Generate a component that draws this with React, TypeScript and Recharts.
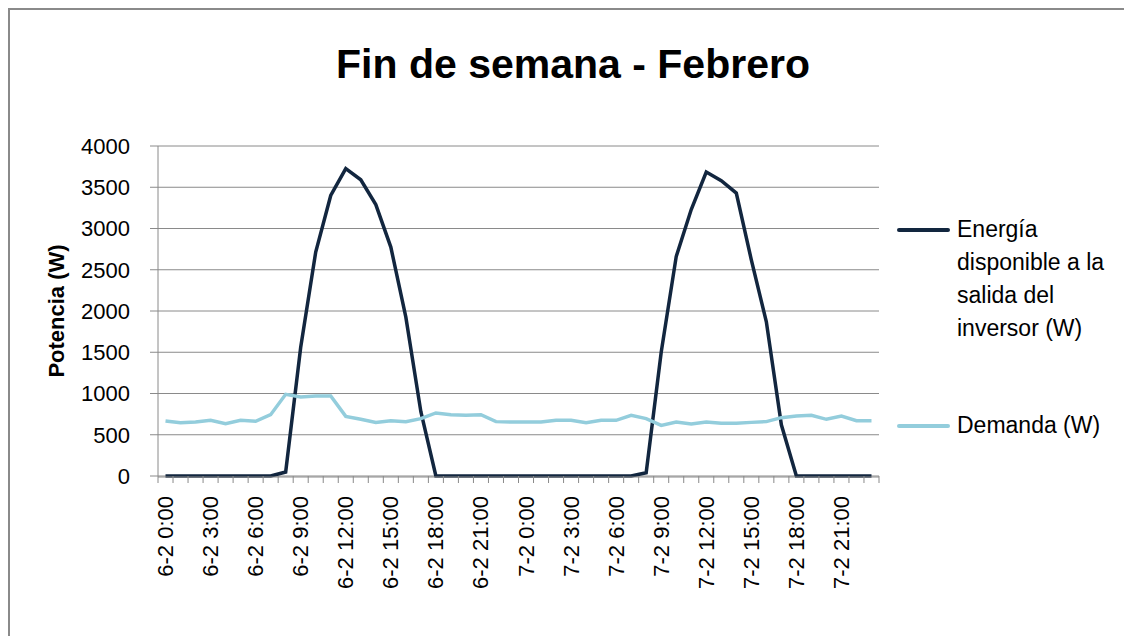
import { LineChart, Line, XAxis, YAxis, CartesianGrid, Legend } from 'recharts';

// 48 hourly samples over the weekend (6-2 and 7-2)
const days = ['6-2', '7-2'];
const hours = [0, 1, 2, 3, 4, 5, 6, 7, 8, 9, 10, 11, 12, 13, 14, 15, 16, 17, 18, 19, 20, 21, 22, 23];
const categories = days.flatMap((d) => hours.map((h) => `${d} ${h}:00`));

const energia = [
  0, 0, 0, 0, 0, 0, 0, 0, 48, 1560, 2715, 3400, 3725, 3590, 3290, 2775, 1925, 780, 0, 0, 0, 0, 0, 0,
  0, 0, 0, 0, 0, 0, 0, 0, 40, 1500, 2660, 3230, 3685, 3580, 3430, 2620, 1870, 620, 0, 0, 0, 0, 0, 0,
];

const demanda = [
  667, 646, 654, 675, 634, 675, 663, 743, 990, 957, 970, 970, 723, 687, 650, 671, 659, 695, 764, 743, 735, 743, 659, 654,
  654, 654, 675, 675, 646, 675, 675, 735, 695, 614, 654, 630, 654, 638, 638, 650, 659, 707, 727, 735, 687, 727, 671, 671,
];

const seriesNames = ['Energía disponible a la salida del inversor (W)', 'Demanda (W)'];

const yTicks = [0, 500, 1000, 1500, 2000, 2500, 3000, 3500, 4000];
const labelTicks = [0, 3, 6, 9, 12, 15, 18, 21, 24, 27, 30, 33, 36, 39, 42, 45];
// tick marks sit between categories, like Excel
const markTicks = [...categories.map((_, i) => i - 0.5), categories.length - 0.5];

const data = categories.map((cat, i) => ({
  idx: i,
  cat,
  energia: energia[i],
  demanda: demanda[i],
}));

const FONT = '"Liberation Sans", Arial, sans-serif';
const GRAY = '#8a8a8a';
const legendTops = [0, 196];

function XTick({ x, y, payload }: any) {
  return (
    <text
      x={x}
      y={y}
      transform={`rotate(-90 ${x} ${y})`}
      textAnchor="end"
      dominantBaseline="central"
      fontSize={22}
      fill="#000"
      fontFamily={FONT}
    >
      {categories[payload.value]}
    </text>
  );
}

function YLabel({ viewBox }: any) {
  const cx = viewBox.x + 56;
  const cy = viewBox.y + viewBox.height / 2;
  return (
    <text
      x={cx}
      y={cy}
      transform={`rotate(-90 ${cx} ${cy})`}
      textAnchor="middle"
      dominantBaseline="central"
      fontSize={22}
      fontWeight="bold"
      fill="#000"
      fontFamily={FONT}
    >
      Potencia (W)
    </text>
  );
}

function LegendBox({ payload }: any) {
  const items = [...(payload || [])].sort(
    (a: any, b: any) => seriesNames.indexOf(a.value) - seriesNames.indexOf(b.value),
  );
  return (
    <div style={{ position: 'relative', width: 235, height: 240 }}>
      {items.map((entry: any, i: number) => (
        <div
          key={entry.value}
          style={{ position: 'absolute', left: 0, top: legendTops[i], display: 'flex', alignItems: 'flex-start' }}
        >
          <div style={{ width: 53, height: 4, marginTop: 14.5, borderRadius: 2, background: entry.color }} />
          <div style={{ marginLeft: 7, width: 165, fontSize: 23, lineHeight: '33px', color: '#000', fontFamily: FONT }}>
            {entry.value}
          </div>
        </div>
      ))}
    </div>
  );
}

export default function App() {
  return (
    <div
      style={{
        position: 'relative',
        width: 1132,
        height: 644,
        margin: -8,
        overflow: 'hidden',
        background: '#fff',
        fontFamily: FONT,
      }}
    >
      <div
        style={{
          position: 'absolute',
          left: 0,
          top: 44,
          width: 1146,
          textAlign: 'center',
          fontSize: 41,
          lineHeight: '41px',
          fontWeight: 'bold',
          color: '#000',
          zIndex: 1,
        }}
      >
        Fin de semana - Febrero
      </div>
      <LineChart width={1132} height={644} data={data} margin={{ top: 146, right: 253, bottom: 0, left: 0 }}>
        <CartesianGrid horizontal vertical={false} stroke={GRAY} />
        <XAxis
          xAxisId="x"
          dataKey="idx"
          type="number"
          domain={[-0.5, 47.5]}
          ticks={labelTicks}
          interval={0}
          height={167}
          axisLine={{ stroke: GRAY }}
          tickLine={false}
          tickSize={0}
          tickMargin={19}
          tick={<XTick />}
        />
        <XAxis
          xAxisId="marks"
          dataKey="idx"
          type="number"
          domain={[-0.5, 47.5]}
          ticks={markTicks}
          interval={0}
          height={1}
          axisLine={false}
          tickSize={7}
          tickLine={{ stroke: GRAY }}
          tickFormatter={() => ''}
        />
        <YAxis
          domain={[0, 4000]}
          ticks={yTicks}
          interval={0}
          width={158}
          axisLine={{ stroke: GRAY }}
          tickLine={{ stroke: GRAY }}
          tickSize={8}
          tickMargin={20}
          tick={{ fontSize: 22, fill: '#000', fontFamily: FONT }}
          label={<YLabel />}
        />
        <Legend
          layout="horizontal"
          verticalAlign="middle"
          align="center"
          content={<LegendBox />}
          wrapperStyle={{ position: 'absolute', left: 897, top: 213, width: 235, margin: 0 }}
        />
        <Line
          xAxisId="x"
          type="linear"
          dataKey="energia"
          name={seriesNames[0]}
          stroke="#12263f"
          strokeWidth={3.5}
          dot={false}
          isAnimationActive={false}
        />
        <Line
          xAxisId="x"
          type="linear"
          dataKey="demanda"
          name={seriesNames[1]}
          stroke="#93cddc"
          strokeWidth={3.5}
          dot={false}
          isAnimationActive={false}
        />
      </LineChart>
      {/* chart-area frame: only its top and left edges fall inside the picture */}
      <svg
        width={1132}
        height={644}
        style={{ position: 'absolute', left: 0, top: 0, pointerEvents: 'none', zIndex: 3 }}
      >
        <polyline points="9,644 9,9 1132,9" fill="none" stroke={GRAY} strokeWidth={2} />
      </svg>
    </div>
  );
}
